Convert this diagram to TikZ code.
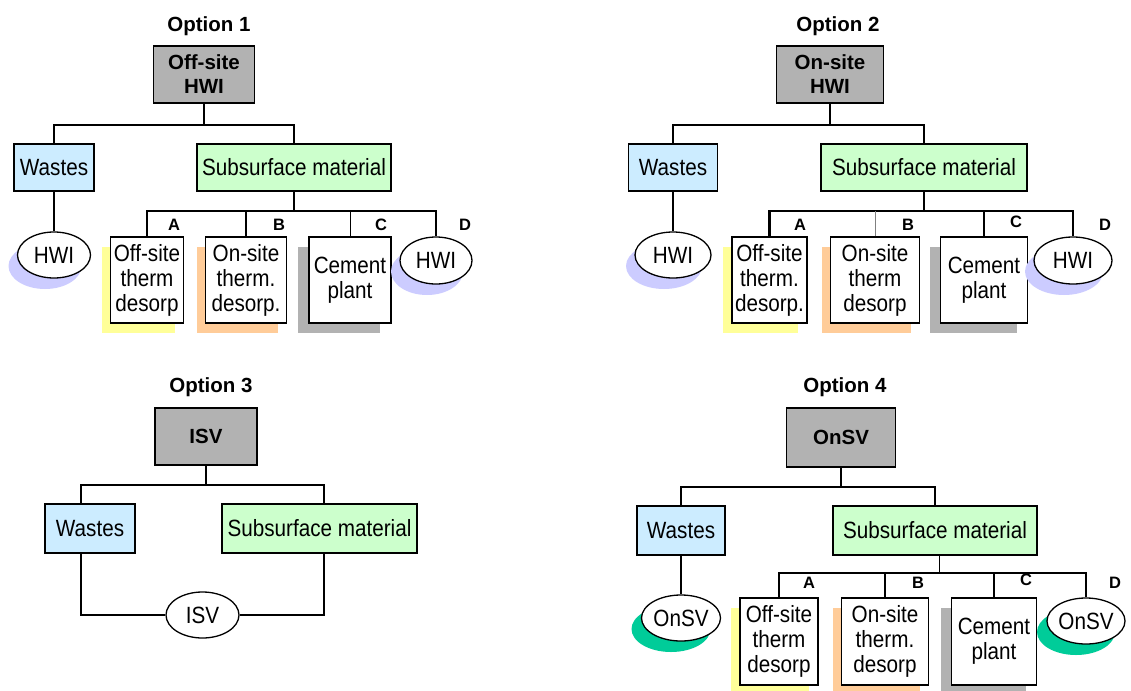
\documentclass[tikz,border=0pt]{standalone}
\usepackage{fontspec}
\setmainfont{Liberation Sans}
\newfontfamily\narrowfont[FakeStretch=0.88]{Liberation Sans}
\usetikzlibrary{calc,shapes.geometric,shadows}
\definecolor{boxgray}{RGB}{178,178,178}
\definecolor{wasteblue}{RGB}{204,236,255}
\definecolor{subgreen}{RGB}{204,255,204}
\definecolor{shyellow}{RGB}{255,255,153}
\definecolor{shorange}{RGB}{255,204,153}
\definecolor{shlilac}{RGB}{204,204,255}
\definecolor{shgreen}{RGB}{0,204,153}
\begin{document}
\begin{tikzpicture}[x=1pt,y=-1pt,
every node/.style={font=\narrowfont\fontsize{23.5}{25}\selectfont,inner sep=1pt},
ttl/.style={font=\fontsize{20.5}{24}\selectfont\bfseries},
lbl/.style={font=\fontsize{16.5}{18}\selectfont\bfseries},
headbox/.style={draw,line width=1.3pt,fill=boxgray,align=center,minimum height=57pt,font=\fontsize{20.5}{24}\selectfont\bfseries},
wastebox/.style={draw,line width=1.3pt,fill=wasteblue,minimum height=47pt},
subbox/.style={draw,line width=1.3pt,fill=subgreen,minimum height=47pt},
leafbox/.style={draw,line width=1.3pt,fill=white,align=center,minimum height=86pt},
ovalnode/.style={draw,ellipse,line width=1.3pt,fill=white,minimum height=46pt,inner sep=0pt},
yelshade/.style={general shadow={fill=shyellow,shadow xshift=-9pt,shadow yshift=-10pt}},
orashade/.style={general shadow={fill=shorange,shadow xshift=-9pt,shadow yshift=-10pt}},
grashade/.style={general shadow={fill=boxgray,shadow xshift=-11pt,shadow yshift=-10pt}},
lilshade/.style={general shadow={fill=shlilac,shadow xshift=-9pt,shadow yshift=-11pt}},
grnshade/.style={general shadow={fill=shgreen,shadow xshift=-10pt,shadow yshift=-11pt}},
heavy/.style={line width=2.5pt},wire/.style={line width=1.6pt},hair/.style={line width=0.8pt}]
\useasboundingbox[fill=white](0,0)rectangle(1131,690);
\node[ttl](o1)at(209,26){Option 1};
\node[headbox,minimum width=101pt](t1)at(204,74.5){Off-site\\HWI};
\node[wastebox,minimum width=80pt](w1)at(54,167.5){Wastes};\node[subbox,minimum width=194pt](s1)at(294,167.5){Subsurface material};
\node[ovalnode,lilshade,minimum width=73pt](h1)at(54,255){HWI};
\node[leafbox,yelshade,minimum width=73pt](a1)at(147,280){Off-site\\therm\\desorp};
\node[leafbox,orashade,minimum width=81pt](b1)at(246,280){On-site\\therm.\\desorp.};
\node[leafbox,grashade,minimum width=82pt](c1)at(350,280){Cement\\plant};
\node[ovalnode,lilshade,minimum width=72pt,minimum height=47pt](d1)at(436,260.5){HWI};
\coordinate(k1)at(204,125);\coordinate(m1)at(294,211);
\draw[heavy](t1.south)--(k1);\draw[heavy](w1.north)|-(k1)-|(s1.north);\draw[wire](w1.south)--(h1.north);\draw[wire](s1.south)--(m1);
\draw[heavy](a1.north)|-(m1)-|(d1.north);\draw[wire](b1.north)--(b1.north|-m1);\draw[hair](c1.north)--(c1.north|-m1);
\node[lbl](la1)at(174,225){A};\node[lbl](lb1)at(279,225){B};\node[lbl](lc1)at(381,225){C};\node[lbl](ld1)at(465,225){D};
\node[ttl](o2)at(838,26){Option 2};
\node[headbox,minimum width=107pt](t2)at(830,74.5){On-site\\HWI};
\node[wastebox,minimum width=89pt](w2)at(673,167.5){Wastes};\node[subbox,minimum width=206pt](s2)at(924,167.5){Subsurface material};
\node[ovalnode,lilshade,minimum width=76pt](h2)at(673,255){HWI};
\node[leafbox,yelshade,minimum width=75pt](a2)at(769.5,280){Off-site\\therm.\\desorp.};
\node[leafbox,orashade,minimum width=89pt](b2)at(875,280){On-site\\therm\\desorp};
\node[leafbox,grashade,minimum width=87pt](c2)at(984,280){Cement\\plant};
\node[ovalnode,lilshade,minimum width=78pt,minimum height=47pt](d2)at(1073,260.5){HWI};
\coordinate(k2)at(830,125);\coordinate(m2)at(924,211);
\draw[heavy](t2.south)--(k2);\draw[heavy](w2.north)|-(k2)-|(s2.north);\draw[wire](w2.south)--(h2.north);\draw[heavy](s2.south)--(m2);
\draw[heavy](a2.north)|-(m2)-|(d2.north);\draw[hair,gray](b2.north)--(b2.north|-m2);\draw[heavy](c2.north)--(c2.north|-m2);
\node[lbl](la2)at(800,225){A};\node[lbl](lb2)at(908,225){B};\node[lbl](lc2)at(1016,222){C};\node[lbl](ld2)at(1105,225){D};
\node[ttl](o3)at(211,387){Option 3};
\node[headbox,minimum width=102pt](t3)at(206,436.5){ISV};
\node[wastebox,minimum width=90pt,minimum height=49pt](w3)at(90,528.5){Wastes};\node[subbox,minimum width=195pt,minimum height=49pt](s3)at(319.5,528.5){Subsurface material};
\node[ovalnode,minimum width=73pt](i3)at(202.5,615){ISV};
\coordinate(k3)at(206,485);
\draw[wire](t3.south)--(k3);\draw[wire]($(w3.north)+(-9,0)$)|-(k3)-|($(s3.north)+(4.5,0)$);
\draw[wire]($(w3.south)+(-9,0)$)|-(i3.west);\draw[wire]($(s3.south)+(4.5,0)$)|-(i3.east);
\node[ttl](o4)at(845,387){Option 4};
\node[headbox,minimum width=109pt,minimum height=59pt](t4)at(841,437.5){OnSV};
\node[wastebox,minimum width=88pt,minimum height=49pt](w4)at(681,530.5){Wastes};\node[subbox,minimum width=204pt,minimum height=49pt](s4)at(935,530.5){Subsurface material};
\node[ovalnode,grnshade,minimum width=79pt](h4)at(681,618){OnSV};
\node[leafbox,yelshade,minimum width=78pt,minimum height=87pt](a4)at(779,641.5){Off-site\\therm\\desorp};
\node[leafbox,orashade,minimum width=87pt,minimum height=87pt](b4)at(885,641.5){On-site\\therm.\\desorp};
\node[leafbox,grashade,minimum width=85pt,minimum height=87pt](c4)at(994,641.5){Cement\\plant};
\node[ovalnode,grnshade,minimum width=77pt](d4)at(1086,621){OnSV};
\coordinate(k4)at(841,487);\coordinate(m4)at(939,573);
\draw[wire](t4.south)--(k4);\draw[heavy](w4.north)|-(k4)-|(s4.north);\draw[wire](w4.south)--(h4.north);\draw[hair]($(s4.south)+(4,0)$)--(m4);
\draw[heavy](a4.north)|-(m4)-|(d4.north);\draw[wire](b4.north)--(b4.north|-m4);\draw[heavy](c4.north)--(c4.north|-m4);
\node[lbl](la4)at(809,583){A};\node[lbl](lb4)at(918,583){B};\node[lbl](lc4)at(1026,580){C};\node[lbl](ld4)at(1115,583){D};
\end{tikzpicture}
\end{document}
